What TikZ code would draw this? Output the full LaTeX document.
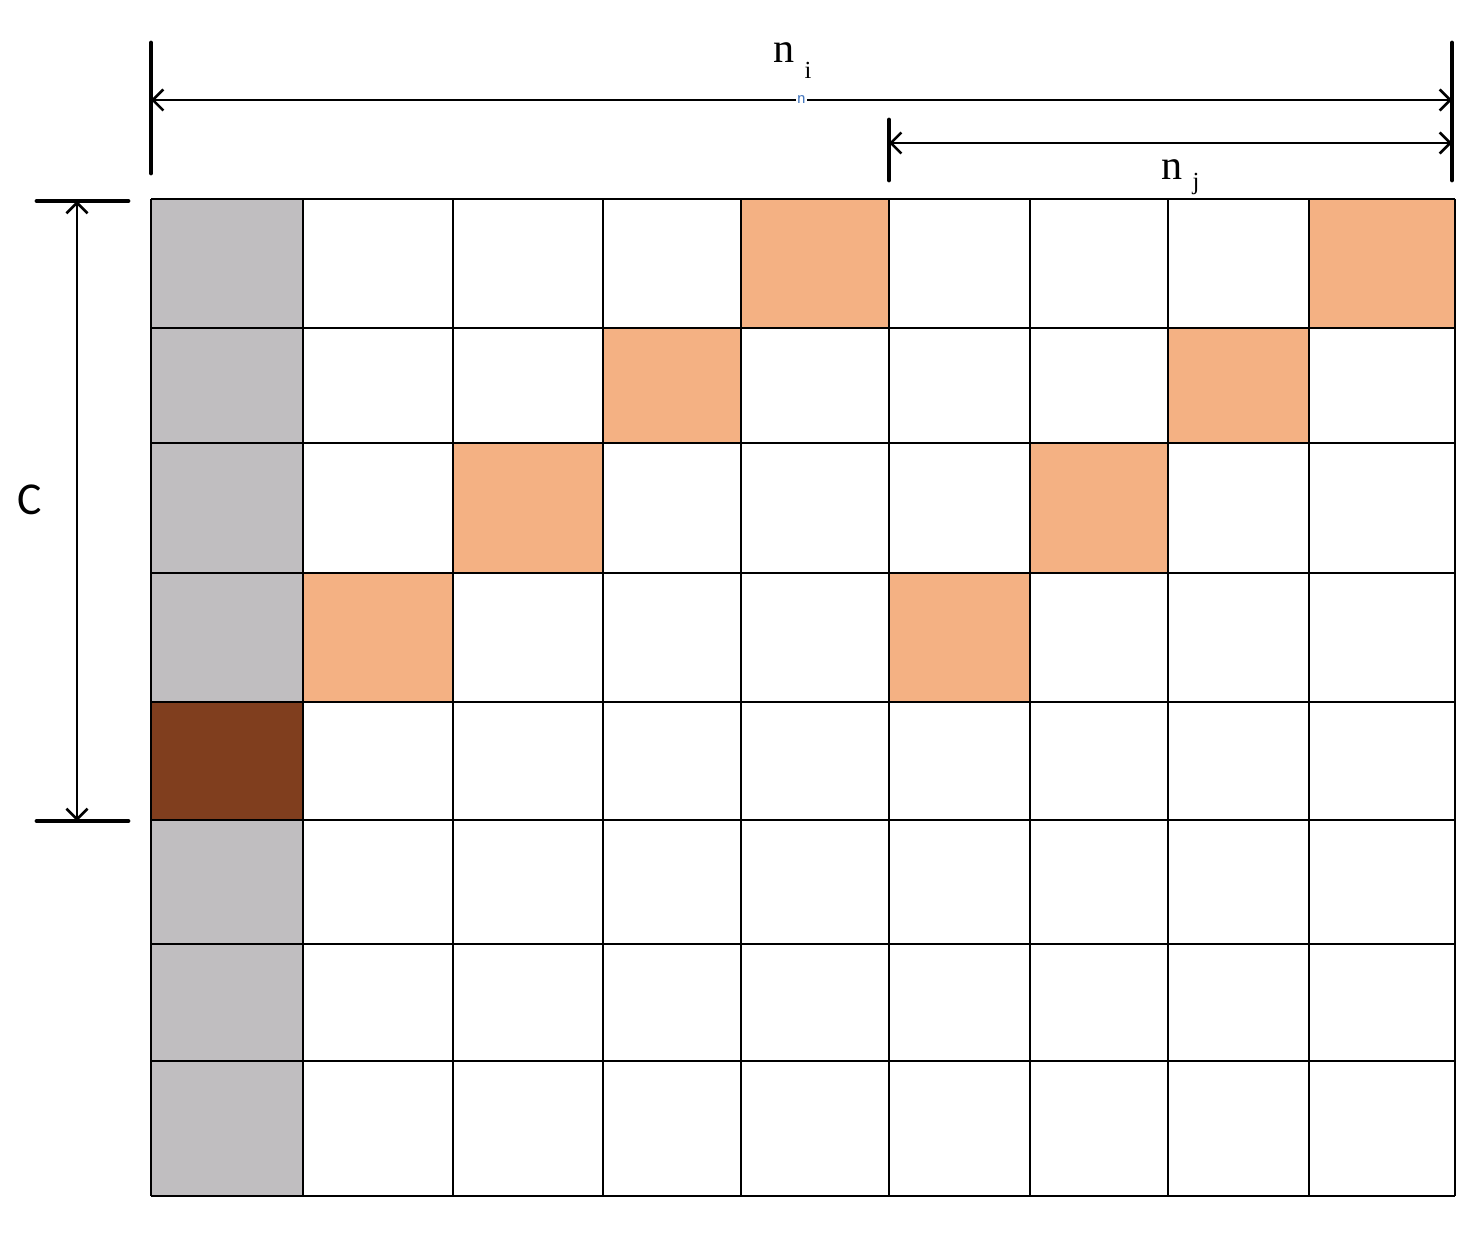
\documentclass[tikz,border=0pt]{standalone}
\usepackage{fontspec}
\setmainfont{Liberation Serif}
\newfontfamily\labsans{Carlito}
\usetikzlibrary{arrows.meta}
\definecolor{cellgray}{RGB}{192,190,192}
\definecolor{cellorange}{RGB}{244,177,131}
\definecolor{cellbrown}{RGB}{128,62,30}
\definecolor{tinyblue}{RGB}{70,120,190}
\tikzset{
  gridline/.style={line width=1.25pt,black},
  dimbar/.style={line width=2.8pt,black,line cap=round},
  dimarrow/.style={line width=1.5pt,black,{Straight Barb[length=6pt,width=12pt,line width=1.5pt]}-{Straight Barb[length=6pt,width=12pt,line width=1.5pt]}},
  ocell/.style={fill=cellorange,draw=none},
}
\begin{document}
\begin{tikzpicture}[x=0.02cm,y=-0.02cm]
\useasboundingbox (0,0) rectangle (1481,1243);
% fills
\fill[cellgray] (151,199) rectangle (303,1196);
\fill[cellbrown] (151,702) rectangle (303,820);
\fill[ocell] (741,199) rectangle (889,328);
\fill[ocell] (1309,199) rectangle (1455,328);
\fill[ocell] (603,328) rectangle (741,443);
\fill[ocell] (1168,328) rectangle (1309,443);
\fill[ocell] (453,443) rectangle (603,573);
\fill[ocell] (1030,443) rectangle (1168,573);
\fill[ocell] (303,573) rectangle (453,702);
\fill[ocell] (889,573) rectangle (1030,702);
% grid
\foreach \x in {151,303,453,603,741,889,1030,1168,1309,1455}
  \draw[gridline] (\x,199) -- (\x,1196);
\foreach \y in {199,328,443,573,702,820,944,1061,1196}
  \draw[gridline] (151,\y) -- (1455,\y);
% top dimensions
\coordinate (L1) at (151,43);
\coordinate (L2) at (151,173);
\coordinate (R1) at (1452,43);
\coordinate (R2) at (1452,180);
\coordinate (M1) at (889,120);
\coordinate (M2) at (889,180);
\draw[dimbar] (L1) -- (L2);
\draw[dimbar] (R1) -- (R2);
\draw[dimbar] (M1) -- (M2);
\coordinate (niA) at (151,100);
\coordinate (niB) at (1452,100);
\coordinate (njA) at (889,143);
\coordinate (njB) at (1452,143);
\draw[dimarrow] (niA) -- node[fill=white,inner sep=0.8pt,text=tinyblue,font=\fontsize{10}{11}\selectfont\sffamily] (nsmall) {n} (niB);
\draw[dimarrow] (njA) -- (njB);
\node[font=\fontsize{24}{28}\selectfont] (nilab) at (784,53) {n};
\node[font=\fontsize{14}{16}\selectfont] (nisub) at (808,70) {i};
\node[font=\fontsize{24}{28}\selectfont] (njlab) at (1172,170) {n};
\node[font=\fontsize{14}{16}\selectfont] (njsub) at (1196,184) {j};
% left dimension
\coordinate (T1) at (37,201);
\coordinate (T2) at (128,201);
\coordinate (B1) at (37,821);
\coordinate (B2) at (128,821);
\draw[dimbar] (T1) -- (T2);
\draw[dimbar] (B1) -- (B2);
\coordinate (cA) at (77,201);
\coordinate (cB) at (77,821);
\draw[dimarrow] (cA) -- (cB);
\node[font=\labsans\fontsize{26}{30}\selectfont] (clab) at (30,500) {C};
\end{tikzpicture}
\end{document}
